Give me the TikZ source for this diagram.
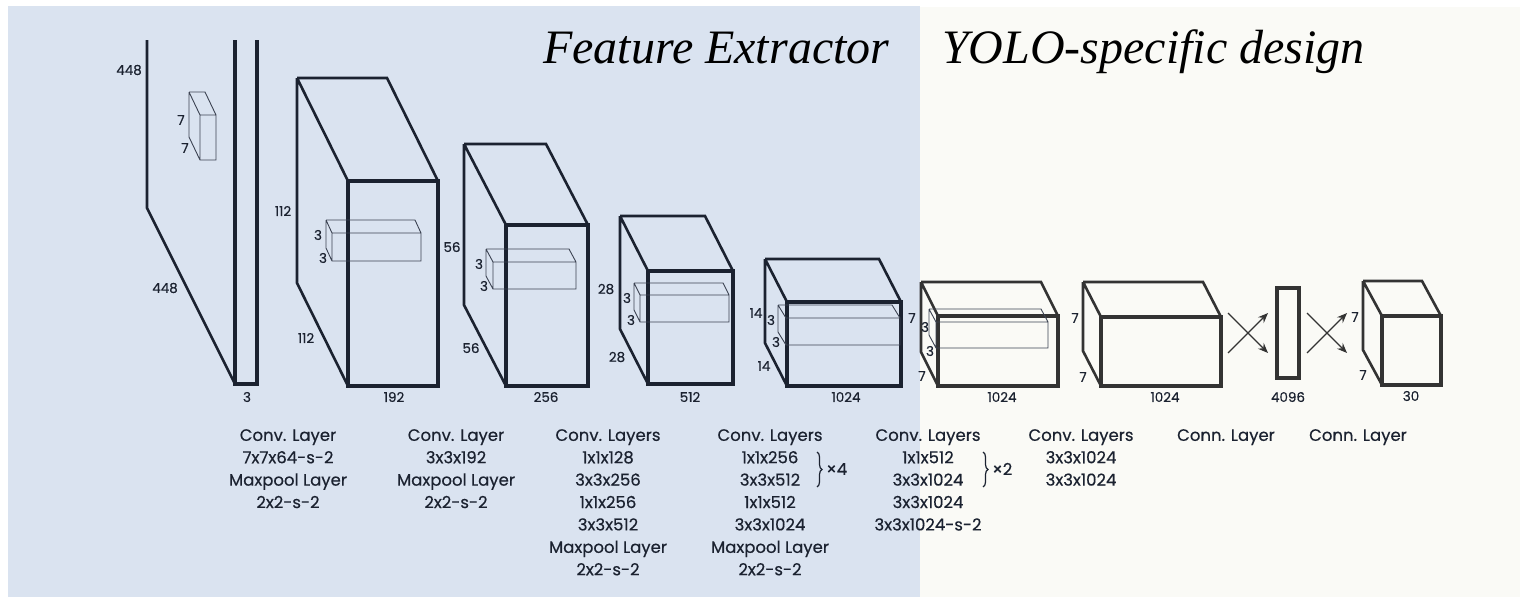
\documentclass[tikz,border=0pt]{standalone}
\usepackage{fontspec}
\setmainfont{Poppins}[FakeBold=0.45]
\newfontfamily\titlefont{Liberation Serif}
\usetikzlibrary{arrows.meta,decorations.pathreplacing}

\definecolor{bgblue}{HTML}{DAE3F0}
\definecolor{bgwhite}{HTML}{FAFAF6}
\definecolor{ink}{HTML}{1B2230}
\definecolor{inkgray}{HTML}{333333}
\definecolor{kernelink}{HTML}{3C4352}

\tikzset{
  boxline/.style={ink, line width=2.6pt},
  boxfront/.style={ink, line width=3.4pt},
  boxlinew/.style={inkgray, line width=2.6pt},
  boxfrontw/.style={inkgray, line width=3.2pt},
  kernel/.style={kernelink, line width=0.9pt},
  dim/.style={text=ink, inner sep=0, font=\fontsize{13.5}{13.5}\selectfont},
  layer/.style={text=ink, inner sep=0, align=center, anchor=north,
    font=\fontsize{16.5}{22.4}\selectfont},
  title/.style={inner sep=0, anchor=base west,
    font=\titlefont\itshape\fontsize{48}{50}\selectfont},
  fcarrow/.style={inkgray, line width=1.3pt, -{Stealth[length=10pt,width=8pt]}}
}

\begin{document}
\begin{tikzpicture}[x=1pt,y=-1pt]
\useasboundingbox (0,0) rectangle (1520,597);
\fill[white] (0,0) rectangle (1520,597);
\fill[bgblue] (8,6) rectangle (920,597);
\fill[bgwhite] (920,7) rectangle (1520,597);

\node[title] (fe) at (543,63) {Feature Extractor};
\node[title] (yolo) at (942,63) {YOLO-specific design};

% input slab
\draw[boxline] (147,40) -- (147,208) -- (235,384);
\draw[boxfront] (235,40) -- (235,384) -- (257,384) -- (257,40);

% conv blocks
\foreach \a/\b/\dx/\dy/\w/\h in {297/78/51/103/90/205, 464/144/42/81/82/161,
    620/216/28/55/85/113, 765/259/22/43/114/84}{
  \draw[boxline] (\a,\b) -- ++(\w,0) -- ++(\dx,\dy)
    (\a,\b) -- ++(\dx,\dy)
    (\a,\b) -- ++(0,\h) -- ++(\dx,\dy);
  \draw[boxfront] (\a+\dx,\b+\dy) rectangle ++(\w,\h);
}
\foreach \a/\b/\dx/\dy/\w/\h in {921/282/17/34/120/70, 1083/282/18/35/120/69,
    1363/281/19/35/59/69}{
  \draw[boxlinew] (\a,\b) -- ++(\w,0) -- ++(\dx,\dy)
    (\a,\b) -- ++(\dx,\dy)
    (\a,\b) -- ++(0,\h) -- ++(\dx,\dy);
  \draw[boxfrontw] (\a+\dx,\b+\dy) rectangle ++(\w,\h);
}

% kernels
\foreach \a/\b/\dx/\dy/\w/\h in {189/92/11/23/16/45, 326/220/6/13/89/28,
    486/249/7/13/83/27, 634/283/6/12/89/27, 778/305/8/13/114/27,
    929/309/7/13/112/26}{
  \draw[kernel] (\a,\b) -- ++(\w,0) -- ++(\dx,\dy)
    (\a,\b) -- ++(\dx,\dy)
    (\a,\b) -- ++(0,\h) -- ++(\dx,\dy)
    (\a+\dx,\b+\dy) rectangle ++(\w,\h);
}

% fully connected
\node[draw=inkgray, line width=3.2pt, inner sep=0, minimum width=22pt,
  minimum height=90pt] (fc) at (1288,333) {};
\coordinate (a1) at (1228,313); \coordinate (a2) at (1268,353);
\coordinate (a3) at (1228,353); \coordinate (a4) at (1268,313);
\coordinate (b1) at (1307,313); \coordinate (b2) at (1347,353);
\coordinate (b3) at (1307,353); \coordinate (b4) at (1347,313);
\draw[fcarrow] (a1) -- (a2);
\draw[fcarrow] (a3) -- (a4);
\draw[fcarrow] (b1) -- (b2);
\draw[fcarrow] (b3) -- (b4);

% sizes
\foreach \x/\y/\t [count=\i] in {129/70/448, 165/288/448, 181/120/7, 185/148/7, 247/397/3,
    283/211/112, 306/338/112, 318/235/3, 323/258/3, 394/397/192,
    452/247/56, 471/348/56, 479/264/3, 484/286/3, 546/397/256,
    606/289/28, 617/357/28, 627/298/3, 631/320/3, 690/397/512,
    756/313/14, 764/366/14, 771/320/3, 776/342/3, 846/397/1024,
    912/318/7, 922/376/7, 925/327/3, 930/351/3, 1002/397/1024,
    1075/318/7, 1083/377/7, 1165/397/1024, 1288/397/4096,
    1355/317/7, 1363/375/7, 1411/396/30}
  \node[dim] (dim\i) at (\x,\y) {\t};

% layer texts
\node[layer] (c1) at (288,429) {Conv. Layer\\7x7x64-s-2\\Maxpool Layer\\2x2-s-2};
\node[layer] (c2) at (456,429) {Conv. Layer\\3x3x192\\Maxpool Layer\\2x2-s-2};
\node[layer] (c3) at (608,429) {Conv. Layers\\1x1x128\\3x3x256\\1x1x256\\3x3x512\\Maxpool Layer\\2x2-s-2};
\node[layer] (c4) at (770,429) {Conv. Layers\\1x1x256\\3x3x512\\1x1x512\\3x3x1024\\Maxpool Layer\\2x2-s-2};
\node[layer] (c5) at (928,429) {Conv. Layers\\1x1x512\\3x3x1024\\3x3x1024\\3x3x1024-s-2};
\node[layer] (c6) at (1081,429) {Conv. Layers\\3x3x1024\\3x3x1024};
\node[layer] (c7) at (1226,429) {Conn. Layer};
\node[layer] (c8) at (1358,429) {Conn. Layer};

\draw[ink, line width=1.2pt, decorate, decoration={brace, amplitude=5pt}] (817,452) -- (817,487);
\node[layer, anchor=west] (x4) at (826,469) {×4};
\draw[ink, line width=1.2pt, decorate, decoration={brace, amplitude=5pt}] (983,452) -- (983,487);
\node[layer, anchor=west] (x2) at (992,469) {×2};

\end{tikzpicture}
\end{document}
